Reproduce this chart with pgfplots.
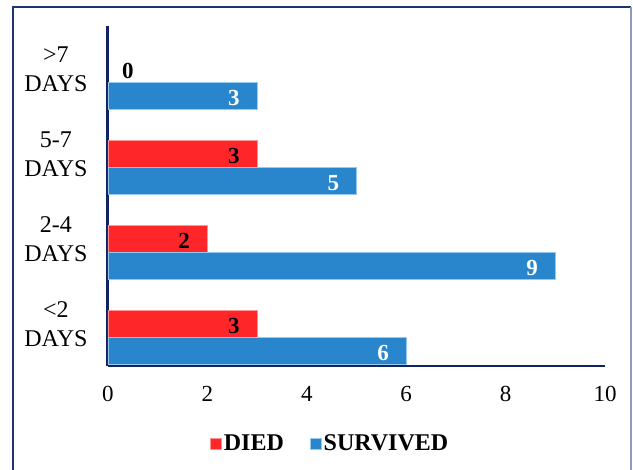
\documentclass[border=0pt]{standalone}
\usepackage{fontspec}
\setmainfont{Liberation Serif}
\usepackage{pgfplots}
\pgfplotsset{compat=1.18}
\definecolor{diedred}{RGB}{255,38,41}
\definecolor{diededge}{RGB}{255,150,150}
\definecolor{survblue}{RGB}{41,134,204}
\definecolor{survedge}{RGB}{150,200,240}
\definecolor{navy}{RGB}{16,36,96}
\definecolor{framenavy}{RGB}{30,52,110}
\definecolor{framegray}{RGB}{140,155,185}

\begin{document}
\begin{tikzpicture}
\useasboundingbox (0pt,0pt) rectangle (633pt,470pt);
\draw[framenavy, line width=2pt] (13pt,-10pt) -- (13pt,463pt) -- (631pt,463pt);
\draw[framegray, line width=1.5pt] (631pt,463pt) -- (631pt,-10pt);
\begin{axis}[
  at={(108pt,104pt)}, anchor=south west,
  scale only axis, width=497pt, height=340pt,
  xmin=0, xmax=10, ymin=-0.34, ymax=3.66,
  axis x line*=bottom, axis y line*=left,
  x axis line style={navy, line width=2pt, -},
  y axis line style={navy, line width=3pt, -},
  xtick={0,2,...,10}, ytick={0,1,2,3},
  yticklabels={{\textless2\\DAYS},{2-4\\DAYS},{5-7\\DAYS},{\textgreater7\\DAYS}},
  major tick length=0pt, tick style={draw=none},
  /pgf/number format/assume math mode=true,
  xticklabel style={font=\fontsize{23}{26}\selectfont, yshift=-17pt},
  yticklabel style={font=\fontsize{24}{29}\selectfont, align=center, xshift=-17pt, yshift=13pt},
  xbar, bar width=0.318,
  legend style={draw=none, fill=none, at={(0.447,-0.2265)}, anchor=center,
    legend columns=2, font=\bfseries\fontsize{24}{26}\selectfont,
    /tikz/every even column/.append style={column sep=24pt}},
  legend image code/.code={\fill[#1] (0pt,-6pt) rectangle (11pt,5pt);},
]
\addplot[fill=diedred, draw=diededge, line width=0.8pt, bar shift=0.159,
  nodes near coords,
  nodes near coords style={anchor=east, inner sep=0pt, xshift=-17pt, yshift=-2pt,
    text=black, font=\bfseries\fontsize{23}{26}\selectfont}]
  coordinates {(3,0) (2,1) (3,2)};
\addlegendentry{DIED}
\addplot[fill=survblue, draw=survedge, line width=0.8pt, bar shift=-0.159,
  nodes near coords,
  nodes near coords style={anchor=east, inner sep=0pt, xshift=-17pt, yshift=-2pt,
    text=white, font=\bfseries\fontsize{23}{26}\selectfont}]
  coordinates {(6,0) (9,1) (5,2) (3,3)};
\addlegendentry{SURVIVED}
\addplot[forget plot, draw=none, fill=none, bar shift=0.159,
  nodes near coords,
  nodes near coords style={anchor=west, inner sep=0pt, xshift=14pt, yshift=-2pt,
    text=black, font=\bfseries\fontsize{23}{26}\selectfont}]
  coordinates {(0,3)};
\end{axis}
\end{tikzpicture}
\end{document}
